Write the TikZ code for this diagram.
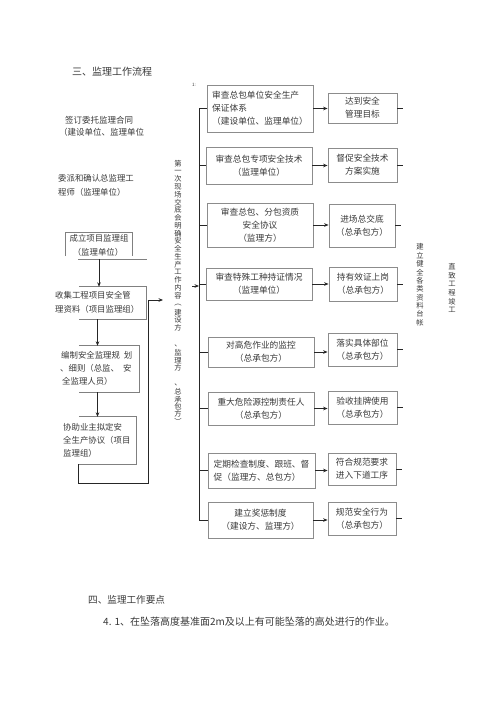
\documentclass[tikz,border=0pt]{standalone}
\usepackage{fontspec}
\setmainfont{Noto Sans CJK SC}
\usetikzlibrary{arrows.meta}
\begin{document}
\begin{tikzpicture}[x=1pt,y=-1pt,
  txt/.style={inner sep=0pt, text=black!78},
  lbl/.style={txt, anchor=west, font=\fontsize{8.4}{10}\selectfont},
  ctxt/.style={txt, font=\fontsize{8.4}{10}\selectfont},
  abox/.style={draw=black!45, line width=0.8pt, inner sep=1pt, align=center, text=black!78, font=\fontsize{8.7}{13}\selectfont, minimum width=106pt},
  bbox/.style={abox, minimum width=69pt},
  hold/.style={inner sep=0pt, draw=none},
  lb/.style={draw=black!50, line width=0.8pt},
  conn/.style={draw=black!85, line width=0.9pt},
  arr/.style={conn, -{Stealth[length=4.5pt,width=3.6pt]}},
  vt/.style={txt, font=\fontsize{7.3}{8}\selectfont},
]
\useasboundingbox (0,0) rectangle (500,708);

% title and free texts
\node[txt, anchor=west, font=\fontsize{10}{12}\selectfont] (title) at (72,72) {三、监理工作流程};
\node[lbl, font=\fontsize{8.5}{10}\selectfont] (t1) at (65,120) {签订委托监理合同};
\node[lbl, font=\fontsize{8.5}{10}\selectfont] (t2) at (59,132) {（建设单位、监理单位};
\node[lbl] (t3) at (58,178) {委派和确认总监理工};
\node[lbl] (t4) at (58,192) {程师（监理单位）};
\node[txt, font=\fontsize{4.5}{5}\selectfont] (mark) at (194,85) {1:};

% left column boxes
\node[hold, minimum width=66pt, minimum height=23pt] (l1) at (99,244.5) {};
\draw[lb] (l1.south west) -- (l1.north west) -- (l1.north east) -- (l1.south east);
\node[ctxt] (l1a) at (99,238) {成立项目监理组};
\node[ctxt] (l1b) at (98,252) {（监理单位）};
\coordinate (s1) at (78,259);
\coordinate (s2) at (147,259);
\draw[lb] (s1) -- (s2);

\node[hold, minimum width=67pt, minimum height=32pt] (l2) at (112.5,303) {};
\draw[lb] (l2.north west) -- (l2.north east) -- (l2.south east) -- (l2.south west);
\node[lbl] (l2a) at (55,295) {收集工程项目安全管};
\node[lbl] (l2b) at (55,309) {理资料（项目监理组）};

\node[hold, minimum width=60pt, minimum height=46pt] (l3) at (109,369) {};
\draw[lb] (l3.north west) -- (l3.north east) -- (l3.south east) -- (l3.south west);
\node[lbl] (l3a) at (61,355) {编制安全监理规\hspace{4pt}划};
\node[lbl] (l3b) at (60,368) {、细则（总监、\hspace{4pt}安};
\node[lbl] (l3c) at (62,381) {全监理人员）};

\node[hold, minimum width=57pt, minimum height=47pt] (l4) at (107.5,440.5) {};
\draw[lb] (l4.north west) -- (l4.north east) -- (l4.south east) -- (l4.south west);
\node[lbl] (l4a) at (63,427) {协助业主拟定安};
\node[lbl] (l4b) at (63,440) {全生产协议（项目};
\node[lbl] (l4c) at (63,453) {监理组）};

\coordinate (ax) at (97.5,0);
\draw[arr] (l1.south |- s1) -- (l1.south |- l2.north);
\draw[arr] (ax |- l2.south) -- (ax |- l3.north);
\draw[arr] (ax |- l3.south) -- (ax |- l4.north);
\coordinate (ret) at (148,483);
\coordinate (tip) at (163,300);
\draw[arr] (l4.south west) |- (ret) |- (tip);

% vertical text
\foreach \c/\yy [count=\i] in {第/164,一/171.5,次/179,现/187,场/195,交/202.5,底/210,会/218,明/226,确/233.5,安/241,全/249,生/257,产/264.5,工/272,作/280,内/288,容/296,︵/305,建/312.5,设/320,方/327.5,、/346,监/353,理/361,方/368,、/385,总/392,承/399.5,包/407,方/414,︶/421}
  \node[vt] (v\i) at (178,\yy) {\c};

% right column A boxes
\node[abox, minimum height=47pt, align=left] (a1) at (260,108.5) {审查总包单位安全生产\\保证体系\\（建设单位、监理单位）};
\node[abox, minimum height=37pt] (a2) at (259,165.5) {审查总包专项安全技术\\（监理单位）};
\node[abox, minimum height=44pt] (a3) at (260,225) {审查总包、分包资质\\安全协议\\（监理方）};
\node[abox, minimum height=32pt] (a4) at (259,284) {审查特殊工种持证情况\\（监理单位）};
\node[abox, minimum height=30pt] (a5) at (261,352) {对高危作业的监控\\（总承包方）};
\node[abox, minimum height=33pt] (a6) at (261,408.5) {重大危险源控制责任人\\（总承包方）};
\node[abox, minimum height=35pt, minimum width=107pt, align=left] (a7) at (261.5,470.5) {定期检查制度、跟班、督\\促（监理方、总包方）};
\node[abox, minimum height=36pt, minimum width=105pt] (a8) at (260.5,520) {建立奖惩制度\\（建设方、监理方）};

% B boxes
\node[bbox, minimum height=30pt] (b1) at (362.5,108) {达到安全\\管理目标};
\node[bbox, minimum height=34pt] (b2) at (362.5,165) {督促安全技术\\方案实施};
\node[bbox, minimum height=43pt, minimum width=66pt] (b3) at (362,225.5) {进场总交底\\（总承包方）};
\node[bbox, minimum height=34pt, minimum width=68pt] (b4) at (363,284) {持有效证上岗\\（总承包方）};
\node[bbox, minimum height=33pt] (b5) at (362.5,349.5) {落实具体部位\\（总承包方）};
\node[bbox, minimum height=33pt] (b6) at (362.5,407.5) {验收挂牌使用\\（总承包方）};
\node[bbox, minimum height=32pt, minimum width=68pt] (b7) at (362,469) {符合规范要求\\进入下道工序};
\node[bbox, minimum height=33pt, minimum width=68pt] (b8) at (362,518.5) {规范安全行为\\（总承包方）};

% spine and branches
\coordinate (sp) at (199,0);
\draw[conn] (a1.west -| sp) -- (a8.west -| sp);
\foreach \n in {1,...,8} {
  \draw[conn] (a\n.west -| sp) -- (a\n.west);
  \draw[arr] (a\n.east) -- (a\n.east -| b\n.west);
  \draw[conn] (b\n.east) -- ++(6,0);
}
\coordinate (spin) at (192,286);
\draw[arr] (spin) -- (spin -| sp);

% right vertical texts
\foreach \c [count=\i from 0] in {建,立,健,全,各,类,资,料,台,帐}
  \node[vt] (r\i) at (420,{247+8.4*\i}) {\c};
\foreach \c [count=\i from 0] in {直,致,工,程,竣,工}
  \node[vt] (q\i) at (452,{267+8.6*\i}) {\c};

% bottom texts
\node[txt, anchor=west, font=\fontsize{9.6}{11}\selectfont] (h4) at (88,600) {四、监理工作要点};
\node[txt, anchor=west, font=\fontsize{10}{12}\selectfont] (p1) at (103,622) {4. 1、在坠落高度基准面2m及以上有可能坠落的高处进行的作业。};
\end{tikzpicture}
\end{document}
